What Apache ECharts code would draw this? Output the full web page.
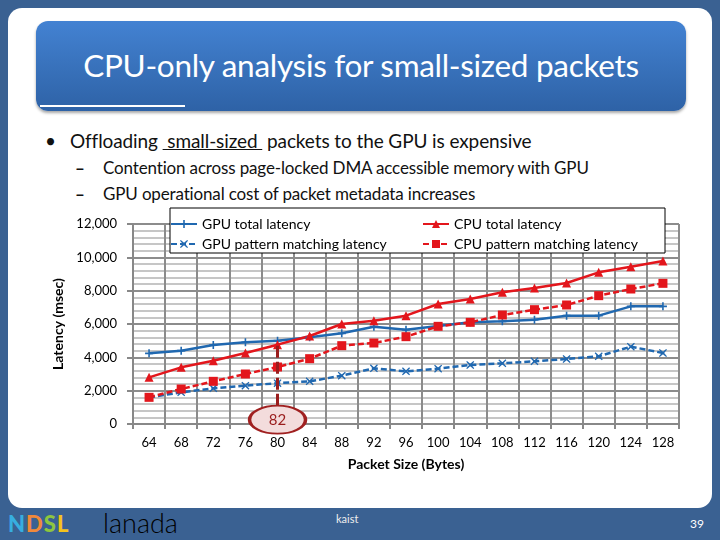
<!DOCTYPE html>
<html>
<head>
<meta charset="utf-8">
<script src="https://cdn.jsdelivr.net/npm/echarts@6/dist/echarts.min.js"></script>
<style>
  html, body { margin:0; padding:0; }
  body { width:720px; height:540px; background:#3a6192; position:relative; overflow:hidden; font-family: Lato, "Open Sans", sans-serif; }
  .panel { position:absolute; left:8px; top:8px; width:704px; height:500px; background:#fff; border-radius:14px; }
  .titlebox { position:absolute; left:36px; top:21px; width:650px; height:90px; border-radius:12px;
    background:linear-gradient(#4382d2, #2e62a6); box-shadow:0 2px 3px rgba(0,0,0,0.35); }
  .titlebox .t { position:absolute; left:0; right:0; top:25px; text-align:center; color:#fff; font-size:31.5px; letter-spacing:-0.3px; }
  .uline { position:absolute; left:40px; top:105px; width:145px; height:2px; background:#fff; }
  .txt { position:absolute; white-space:nowrap; color:#111; }
  #chart { position:absolute; left:0; top:0; width:720px; height:540px; }
</style>
</head>
<body>
<div class="panel"></div>
<div class="titlebox"><div class="t">CPU-only analysis for small-sized packets</div></div>
<div class="uline"></div>
<div class="txt" style="left:45px; top:129px; font-size:19px;">•</div>
<div class="txt" style="left:70px; top:129px; font-size:19px; letter-spacing:-0.1px;">Offloading <span style="text-decoration:underline;">&nbsp;small-sized&nbsp;</span> packets to the GPU is expensive</div>
<div class="txt" style="left:75px; top:157px; font-size:17px; font-weight:bold;">–</div>
<div class="txt" style="left:103px; top:157px; font-size:17px; letter-spacing:-0.15px;">Contention across page-locked DMA accessible memory with GPU</div>
<div class="txt" style="left:75px; top:183px; font-size:17px; font-weight:bold;">–</div>
<div class="txt" style="left:103px; top:183px; font-size:17px; letter-spacing:-0.15px;">GPU operational cost of packet metadata increases</div>
<div class="txt" style="left:8px; top:510px; font-size:22px; font-weight:900; letter-spacing:1px;"><span style="color:#37aee0">N</span><span style="color:#f0893a">D</span><span style="color:#8dc63f">S</span><span style="color:#f4c21b">L</span></div>
<div class="txt" style="left:103px; top:506px; font-size:27px; font-weight:300; color:#000;">lanada</div>
<div class="txt" style="left:336px; top:512px; font-size:11px; color:#eee;">kaist</div>
<div class="txt" style="left:690px; top:516px; font-size:12px; color:#fff;">39</div>
<div id="chart"></div>
<script>
const packetSizes = ['64','68','72','76','80','84','88','92','96','100','104','108','112','116','120','124','128'];
const gpuTotal   = [4240,4400,4740,4900,5000,5200,5440,5840,5660,5880,6100,6160,6260,6500,6500,7060,7060];
const gpuPattern = [1600,1900,2140,2300,2450,2560,2900,3340,3160,3320,3540,3640,3760,3900,4060,4640,4260];
const cpuTotal   = [2800,3400,3800,4260,4760,5280,6000,6200,6500,7200,7500,7900,8160,8460,9100,9440,9780];
const cpuPattern = [1600,2100,2560,3000,3420,3920,4700,4860,5240,5860,6100,6540,6860,7140,7700,8100,8440];
const yTicks = [0,2000,4000,6000,8000,10000,12000];
const annotationLabel = '82';
const annotationCategory = '80';

const BLUE = '#2068b0';
const RED = '#e3161c';
const plusPath = 'path://M4,0h2v4h4v2h-4v4h-2v-4h-4v-2h4z';
const xPath = 'path://M1,0L5,3.5L9,0L10,1L6.5,5L10,9L9,10L5,6.5L1,10L0,9L3.5,5L0,1z';
const ellipsePath = 'path://M0,50 A50,50 0 1,1 100,50 A50,50 0 1,1 0,50 Z';

const chart = echarts.init(document.getElementById('chart'), null, {renderer:'canvas'});
const font = 'Lato, "Open Sans", sans-serif';
chart.setOption({
  backgroundColor: 'transparent',
  animation: false,
  textStyle: { fontFamily: font },
  grid: { left: 133, right: 41, top: 224, bottom: 116 },
  xAxis: {
    type: 'category',
    data: packetSizes,
    boundaryGap: true,
    name: 'Packet Size (Bytes)',
    nameLocation: 'middle',
    nameGap: 33,
    nameTextStyle: { fontSize: 14, color: '#000', fontWeight: 'bold', fontFamily: font },
    axisLine: { lineStyle: { color: '#888', width: 2 } },
    axisTick: { show: true, length: 5, lineStyle: { color: '#888', width: 2 } },
    axisLabel: { color: '#000', fontSize: 13, margin: 12, interval: 0 },
    splitLine: { show: true, lineStyle: { color: '#8c8c8c', width: 2 } }
  },
  yAxis: {
    type: 'value',
    min: yTicks[0], max: yTicks[yTicks.length-1], interval: 2000,
    name: 'Latency (msec)',
    nameLocation: 'middle',
    nameRotate: 90,
    nameGap: 66,
    nameTextStyle: { fontSize: 14, color: '#000', fontFamily: font, fontWeight: 'bold' },
    axisLine: { show: true, lineStyle: { color: '#888', width: 2 } },
    axisTick: { show: true, length: 6, lineStyle: { color: '#888', width: 2 } },
    axisLabel: { color: '#000', fontSize: 13, margin: 16, formatter: v => v.toLocaleString('en-US') },
    splitLine: { show: true, lineStyle: { color: '#8c8c8c', width: 2 } },
    minorTick: { show: false, splitNumber: 5 },
    minorSplitLine: { show: true, lineStyle: { color: '#b4b4b4', width: 1.5 } }
  },
  legend: [
    { orient: 'vertical', left: 165, top: 212, z: 6, itemWidth: 26, itemHeight: 10, itemGap: 6,
      textStyle: { fontSize: 14, color: '#000', fontFamily: font },
      data: ['GPU total latency', 'GPU pattern matching latency'] },
    { orient: 'vertical', left: 417, top: 212, z: 6, itemWidth: 26, itemHeight: 10, itemGap: 6,
      textStyle: { fontSize: 14, color: '#000', fontFamily: font },
      data: ['CPU total latency', 'CPU pattern matching latency'] }
  ],
  graphic: [
    { type: 'rect', z: 5, shape: { x: 170, y: 208, width: 495, height: 45 },
      style: { fill: '#fff', stroke: '#000', lineWidth: 1 } }
  ],
  series: [
    { name: 'GPU total latency', type: 'line', data: gpuTotal, color: BLUE,
      symbol: plusPath, symbolSize: 8, lineStyle: { width: 2.5, color: BLUE }, itemStyle: { color: BLUE } },
    { name: 'GPU pattern matching latency', type: 'line', data: gpuPattern, color: BLUE,
      symbol: xPath, symbolSize: 8, lineStyle: { width: 2.5, color: BLUE, type: [6,3] }, itemStyle: { color: BLUE } },
    { name: 'CPU total latency', type: 'line', data: cpuTotal, color: RED,
      symbol: 'triangle', symbolSize: 9, lineStyle: { width: 2.5, color: RED }, itemStyle: { color: RED } },
    { name: 'CPU pattern matching latency', type: 'line', data: cpuPattern, color: RED,
      symbol: 'rect', symbolSize: 9, lineStyle: { width: 2.5, color: RED, type: [6,3] }, itemStyle: { color: RED },
      markLine: {
        silent: true, symbol: 'none', animation: false,
        label: { show: false },
        lineStyle: { color: '#9a1d1d', width: 3, type: [12,4] },
        data: [[ { coord: [annotationCategory, 4700] }, { coord: [annotationCategory, 900] } ]]
      },
      markPoint: {
        silent: true, animation: false,
        data: [{ coord: [annotationCategory, 260], symbol: ellipsePath, symbolSize: [56, 28],
          itemStyle: { color: '#f3dcdc', borderColor: '#a02020', borderWidth: 2.5 },
          label: { show: true, formatter: annotationLabel, color: '#9a1d1d', fontSize: 15, fontFamily: font } }]
      }
    }
  ]
});
</script>
</body>
</html>
